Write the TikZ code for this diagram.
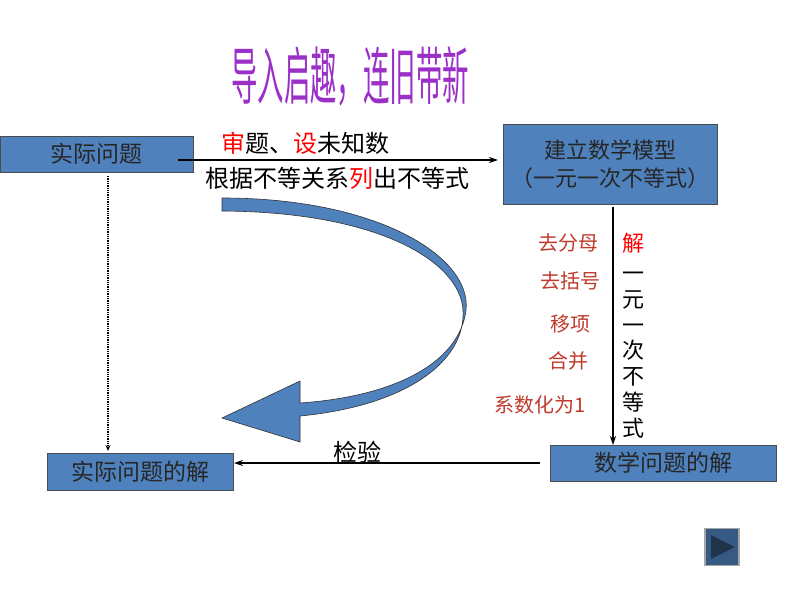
\documentclass[tikz,border=0pt]{standalone}
\usepackage{fontspec}
\newfontfamily\cjk{Noto Sans CJK SC}
\usetikzlibrary{arrows.meta}
\definecolor{boxblue}{HTML}{4F81BD}
\definecolor{lblred}{HTML}{C0392B}
\definecolor{ttl}{HTML}{9B30C8}
\tikzset{
 bx/.style={draw=black!70,fill=boxblue,inner sep=0pt,font=\cjk\fontsize{23}{25}\selectfont,text=black!85},
 lbl/.style={font=\cjk\fontsize{20}{22}\selectfont,text=lblred,inner sep=0pt},
 txt/.style={font=\cjk\fontsize{24}{26}\selectfont,inner sep=0pt},
 arr/.style={-{Stealth[length=9pt,width=6pt]},line width=1.2pt}
}
\begin{document}
\begin{tikzpicture}[x=1pt,y=-1pt]
\useasboundingbox (0,0) rectangle (794,596);
% title
\node[font=\cjk\fontsize{33}{36}\selectfont,text=ttl,xscale=0.8,yscale=1.9,preaction={}] (title) at (350,76) {导入启趣，连旧带新};
% boxes
\node[bx,minimum width=193pt,minimum height=36pt] (a) at (96.5,154) {实际问题};
\node[bx,minimum width=214pt,minimum height=80pt,align=center,font=\cjk\fontsize{22}{24}\selectfont] (b) at (610,164) {建立数学模型\\[4pt]（一元一次不等式）};
\node[bx,minimum width=226pt,minimum height=36pt] (c) at (663,463) {数学问题的解};
\node[bx,minimum width=186pt,minimum height=37pt] (d) at (140,472) {实际问题的解};
% arrows
\coordinate (a1) at (178,160); \coordinate (b1) at (498,160);
\draw[arr] (a1) -- (b1);
\node[txt] (t1) at (305,143) {\textcolor{red}{审}题、\textcolor{red}{设}未知数};
\node[txt] (t2) at (337,178) {根据不等关系\textcolor{red}{列}出不等式};
\coordinate (d1) at (108,176); \coordinate (d2) at (108,451);
\draw[densely dotted,line width=1.3pt,-{Stealth[length=6pt,width=5pt]}] (d1) -- (d2);
\coordinate (v1) at (613,207); \coordinate (v2) at (613,445);
\draw[arr] (v1) -- (v2);
\coordinate (h1) at (540,463); \coordinate (h2) at (234,463);
\draw[line width=1.2pt,-{Stealth[length=9pt,width=6pt]}] (h1) -- (h2);
\node[txt] (jy) at (357,452) {检验};
% red labels
\node[lbl] (l1) at (568,243) {去分母};
\node[lbl] (l2) at (570,281) {去括号};
\node[lbl] (l3) at (570,324) {移项};
\node[lbl] (l4) at (568,361) {合并};
\node[lbl] (l5) at (540,405) {系数化为1};
\node[txt,text=red,font=\cjk\fontsize{22}{24}\selectfont] (j) at (633,243) {解};
\node[txt,align=center,font=\cjk\fontsize{22}{25.8}\selectfont] (v) at (633,355) {一\\元\\一\\次\\不\\等\\式};
% curved arrow
\draw[fill=boxblue,draw=black!80,line width=0.6pt]
 (222,198) .. controls (380,198) and (472,258) .. (466,310)
 .. controls (460,360) and (400,396) .. (300,403)
 -- (300,381) -- (222,418) -- (300,442) -- (300,416)
 .. controls (405,406) and (466,362) .. (463,310)
 .. controls (460,262) and (380,212) .. (222,211) -- cycle;
% nav button
\node[draw=gray!70,line width=1.5pt,fill=boxblue!70!black,minimum width=34pt,minimum height=37pt,inner sep=0pt] (nav) at (722,547) {};
\fill[fill=boxblue!40!black] (711,535) -- (735,547) -- (711,559) -- cycle;
\end{tikzpicture}
\end{document}
